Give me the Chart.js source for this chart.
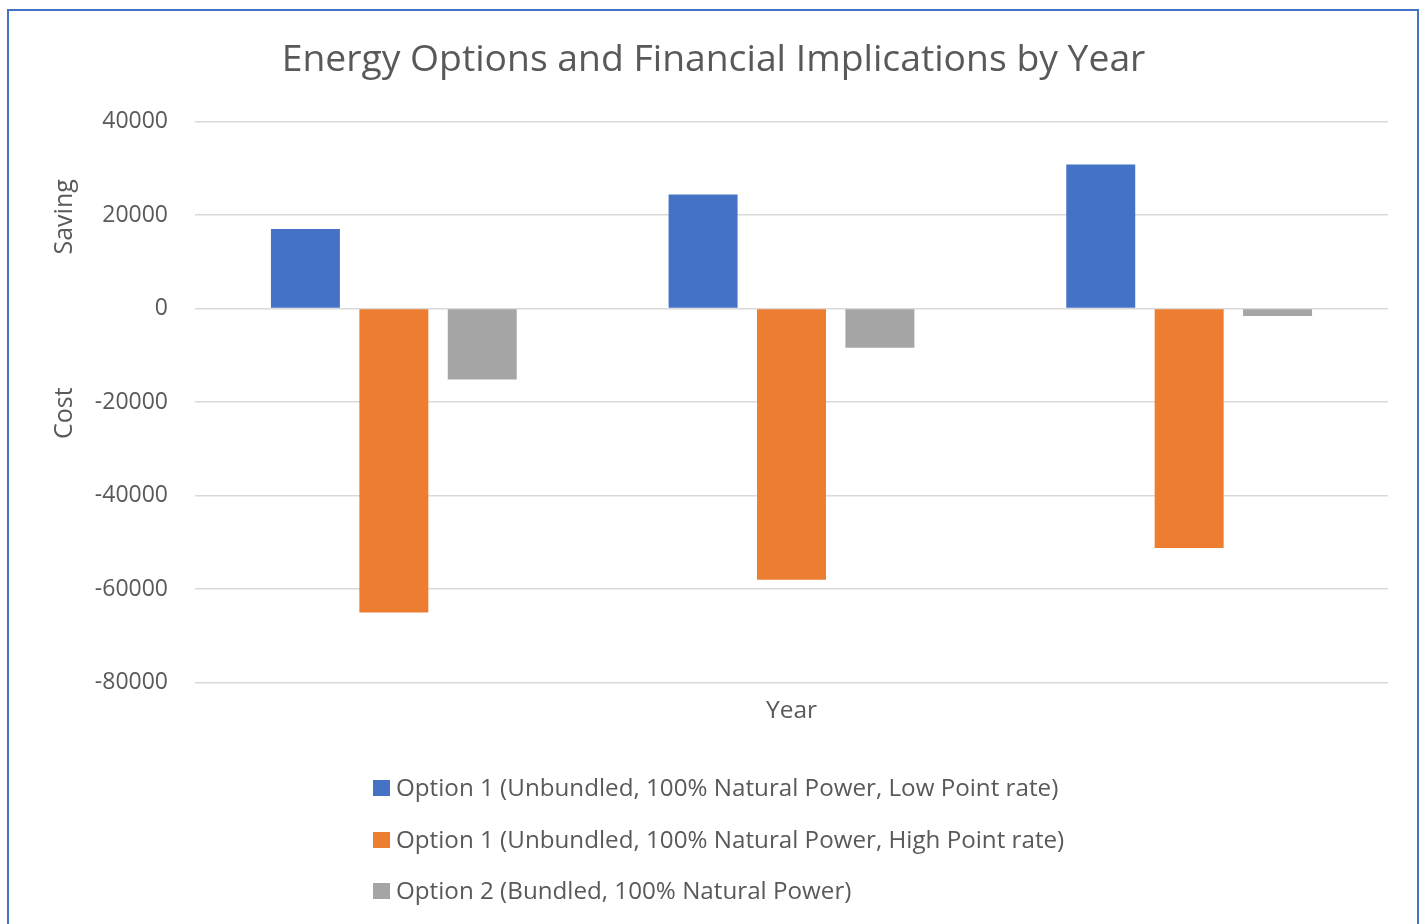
<!DOCTYPE html>
<html>
<head>
<meta charset="utf-8">
<script src="https://cdn.jsdelivr.net/npm/chart.js@4.4.0/dist/chart.umd.min.js"></script>
<style>
  body { margin: 0; background: #fff; overflow: hidden; }
  #frame { position: absolute; left: 7px; top: 9px; width: 1408px; height: 930px; border: 2px solid #4472C4; background: #fff; }
</style>
</head>
<body>
<div id="frame">
  <canvas id="myChart" width="1408" height="913"></canvas>
</div>
<script>
let years = ['', '', ''];
let lowRateArr = [17000, 24400, 30800];
let highRateArr = [-65000, -58000, -51200];
let bundledArr = [-15200, -8400, -1600];
let seriesNames = [
  'Option 1 (Unbundled, 100% Natural Power, Low Point rate)',
  'Option 1 (Unbundled, 100% Natural Power, High Point rate)',
  'Option 2 (Bundled, 100% Natural Power)'
];
let yTicks = [-80000, -60000, -40000, -20000, 0, 20000, 40000];

let textColor = '#595959';
let fontName = '"Open Sans"';

// draws the stacked legend and the two y labels (Saving / Cost)
const sideTexts = {
  id: 'sideTexts',
  afterDraw(chart) {
    const ctx = chart.ctx;
    const area = chart.chartArea;
    ctx.save();
    ctx.fillStyle = textColor;
    ctx.font = '25px ' + fontName;
    ctx.textAlign = 'center';
    ctx.textBaseline = 'middle';

    let savingY = area.top + (area.bottom - area.top) * 0.170;
    let costY = area.top + (area.bottom - area.top) * 0.520;
    ctx.save();
    ctx.translate(56, savingY);
    ctx.rotate(-Math.PI / 2);
    ctx.fillText('Saving', 0, 0);
    ctx.restore();
    ctx.save();
    ctx.translate(56, costY);
    ctx.rotate(-Math.PI / 2);
    ctx.fillText('Cost', 0, 0);
    ctx.restore();

    let rowsY = [777, 829, 880];
    ctx.font = '24.2px ' + fontName;
    ctx.textAlign = 'left';
    chart.data.datasets.forEach(function(ds, i) {
      ctx.fillStyle = ds.backgroundColor;
      ctx.fillRect(364, rowsY[i] - 8, 17, 16);
      ctx.fillStyle = textColor;
      ctx.fillText(ds.label, 387, rowsY[i] + 1);
    });
    ctx.restore();
  }
};

let canvasEl = document.getElementById('myChart').getContext('2d');
let myChart = new Chart(canvasEl, {
  type: 'bar',
  data: {
    labels: years,
    datasets: [{
      label: seriesNames[0],
      data: lowRateArr,
      backgroundColor: '#4472C4'
    },
    {
      label: seriesNames[1],
      data: highRateArr,
      backgroundColor: '#ED7D31'
    },
    {
      label: seriesNames[2],
      data: bundledArr,
      backgroundColor: '#A5A5A5'
    }]
  },
  options: {
    responsive: false,
    animation: false,
    categoryPercentage: 0.667,
    barPercentage: 0.78,
    layout: {
      padding: { left: 30, right: 29, top: 0, bottom: 198 }
    },
    plugins: {
      legend: { display: false },
      tooltip: { enabled: false },
      title: {
        display: true,
        text: 'Energy Options and Financial Implications by Year',
        color: textColor,
        font: { family: fontName, size: 37.3, weight: 'normal' },
        padding: { top: 27, bottom: 38.7 }
      }
    },
    scales: {
      x: {
        grid: { display: false, drawTicks: false },
        border: { display: false },
        ticks: { display: false },
        title: {
          display: true,
          text: 'Year',
          color: textColor,
          font: { family: fontName, size: 24.5 },
          padding: { top: 14, bottom: 0 }
        }
      },
      y: {
        min: yTicks[0],
        max: yTicks[yTicks.length - 1],
        afterFit: function(scale) { scale.width = 156; },
        afterBuildTicks: function(scale) {
          scale.ticks = yTicks.map(function(v) { return { value: v }; });
        },
        grid: { color: '#d9d9d9', lineWidth: 1.5, drawTicks: false },
        border: { display: false },
        ticks: {
          color: textColor,
          padding: 27,
          font: { family: fontName, size: 23 },
          callback: function(v) { return String(v); }
        }
      }
    }
  },
  plugins: [sideTexts]
});
</script>
</body>
</html>
